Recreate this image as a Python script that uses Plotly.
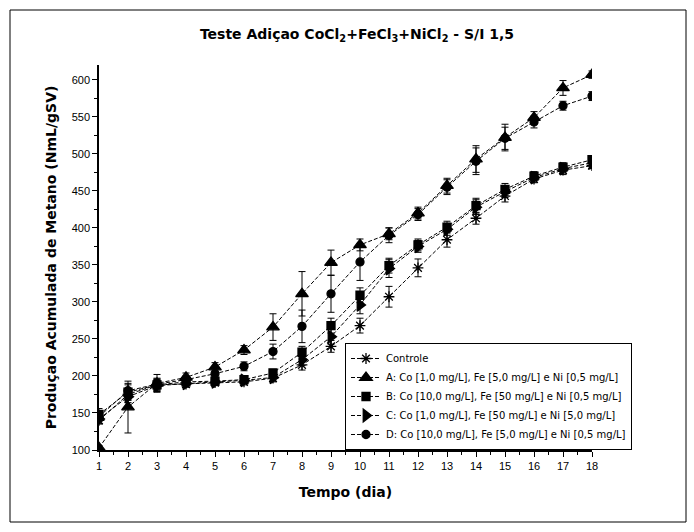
import plotly.graph_objects as go

# Days of digestion
dias = list(range(1, 19))

# Cumulative methane production (NmL/gSV) and standard deviations
controle = [140, 175, 188, 189, 191, 192, 197, 215, 240, 268, 307, 346, 384, 413, 443, 466, 478, 484]
controle_err = [5, 8, 6, 4, 4, 4, 5, 7, 8, 10, 14, 12, 10, 8, 8, 5, 6, 4]

serie_a = [103, 158, 190, 198, 212, 235, 266, 311, 353, 377, 392, 420, 457, 493, 522, 549, 589, 607]
serie_a_err = [3, 35, 12, 6, 6, 6, 18, 30, 17, 8, 8, 8, 10, 18, 18, 8, 10, 5]

serie_b = [148, 178, 188, 192, 193, 195, 204, 232, 268, 309, 349, 377, 401, 430, 452, 470, 482, 492]
serie_b_err = [8, 10, 8, 5, 5, 4, 5, 8, 10, 10, 10, 8, 8, 10, 8, 6, 6, 5]

serie_c = [142, 172, 187, 190, 192, 194, 198, 222, 253, 296, 345, 375, 398, 428, 449, 468, 480, 488]
serie_c_err = [6, 8, 8, 5, 5, 4, 5, 8, 10, 12, 12, 8, 8, 10, 8, 6, 6, 8]

serie_d = [145, 180, 189, 195, 203, 213, 233, 267, 311, 354, 390, 418, 455, 490, 521, 543, 565, 578]
serie_d_err = [6, 10, 8, 5, 5, 6, 10, 22, 25, 25, 10, 8, 10, 18, 15, 8, 6, 6]

nomes = [
    "Controle",
    "A: Co [1,0 mg/L], Fe [5,0 mg/L] e Ni [0,5 mg/L]",
    "B: Co [10,0 mg/L], Fe [50 mg/L] e Ni [0,5 mg/L]",
    "C: Co [1,0 mg/L], Fe [50 mg/L] e Ni [5,0 mg/L]",
    "D: Co [10,0 mg/L], Fe [5,0 mg/L] e Ni [0,5 mg/L]",
]
valores = [controle, serie_a, serie_b, serie_c, serie_d]
erros = [controle_err, serie_a_err, serie_b_err, serie_c_err, serie_d_err]
simbolos = ["asterisk-open", "triangle-up", "square", "triangle-right", "circle"]
tamanhos = [9, 11, 8, 11, 8]

fig = go.Figure()
for nome, y, e, s, t in zip(nomes, valores, erros, simbolos, tamanhos):
    fig.add_trace(go.Scatter(
        x=dias, y=y, name=nome, mode="lines+markers",
        line=dict(color="black", width=1, dash="4px,2px"),
        marker=dict(symbol=s, size=t, color="black",
                    line=dict(color="black", width=1.3)),
        error_y=dict(type="data", array=e, visible=True,
                     color="black", thickness=1, width=3.5),
    ))

# Plot-area geometry in pixels, used for the outer frame
L, R, T, B = 99, 102, 65, 82
W, H = 694 - L - R, 532 - T - B

def px_x(p):
    return (p - L) / W

def px_y(p):
    return (532 - B - p) / H

fig.add_shape(type="rect", xref="paper", yref="paper",
              x0=px_x(10), x1=px_x(686), y0=px_y(522), y1=px_y(10),
              line=dict(color="black", width=1), fillcolor="rgba(0,0,0,0)",
              layer="below")

tick_font = dict(family="Liberation Sans, Arial", size=11, color="black")
titulo_font = "DejaVu Sans, Liberation Sans, Arial"

fig.update_layout(
    width=694, height=532,
    margin=dict(l=L, r=R, t=T, b=B),
    paper_bgcolor="white", plot_bgcolor="white",
    font=dict(family="Liberation Sans, Arial", color="black"),
    title=dict(
        text="<b>Teste Adiçao CoCl<sub>2</sub>+FeCl<sub>3</sub>+NiCl<sub>2</sub> - S/I 1,5</b>",
        x=357 / 694, xanchor="center", y=1 - 34 / 532, yanchor="middle",
        font=dict(size=14, family=titulo_font, color="black"),
    ),
    xaxis=dict(
        range=[1, 18], tickmode="array", tickvals=dias,
        ticks="outside", ticklen=5, tickwidth=1, tickcolor="black",
        minor=dict(dtick=0.5, tick0=1, ticks="outside", ticklen=3, tickcolor="black"),
        showline=True, linecolor="black", linewidth=1.5, mirror=False,
        showgrid=False, zeroline=False, tickfont=tick_font,
        title=dict(text="<b>Tempo (dia)</b>", standoff=16,
                   font=dict(size=14, family=titulo_font)),
    ),
    yaxis=dict(
        range=[100, 620], tickmode="array", tickvals=list(range(100, 601, 50)),
        ticks="outside", ticklen=5, tickwidth=1, tickcolor="black",
        minor=dict(dtick=25, tick0=100, ticks="outside", ticklen=3, tickcolor="black"),
        showline=True, linecolor="black", linewidth=1.5, mirror=False,
        showgrid=False, zeroline=False, tickfont=tick_font,
        title=dict(text="<b>Produçao Acumulada de Metano (NmL/gSV)</b>", standoff=12,
                   font=dict(size=14, family=titulo_font)),
    ),
    legend=dict(
        x=px_x(345), y=px_y(343), xanchor="left", yanchor="top",
        bgcolor="white", bordercolor="black", borderwidth=1,
        font=dict(size=10, family="DejaVu Sans, Liberation Sans", color="black"),
        tracegroupgap=0, itemwidth=30,
    ),
    showlegend=True,
)

fig.write_html("out.html")
